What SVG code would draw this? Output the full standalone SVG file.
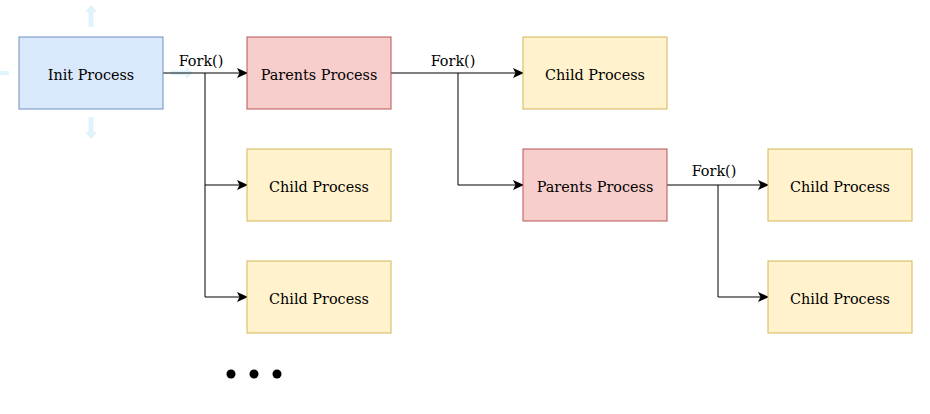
<svg xmlns="http://www.w3.org/2000/svg" width="930" height="414" viewBox="0 0 930 414">
<defs>
<marker id="arr" markerWidth="11" markerHeight="11" refX="10" refY="5" orient="auto" markerUnits="userSpaceOnUse">
<path d="M0,0 L11,5 L0,10 L2.5,5 Z" fill="#000"/>
</marker>
<style>
.t{font-family:"DejaVu Serif",serif;font-size:14.4px;fill:#000;text-anchor:middle;dominant-baseline:central}
.l{font-family:"DejaVu Serif",serif;font-size:14.4px;fill:#000;text-anchor:middle}
.init{fill:#dae8fc;stroke:#6c8ebf;stroke-width:1}
.par{fill:#f8cecc;stroke:#b85450;stroke-width:1}
.ch{fill:#fff2cc;stroke:#d6b656;stroke-width:1}
.c{fill:none;stroke:#000;stroke-width:1}
.h{fill:#dff3fd}
</style>
</defs>
<rect width="930" height="414" fill="#fff"/>
<g id="hints">
<path class="h" d="M91,5 L97,12 L93.5,12 L93.5,27 L88.5,27 L88.5,12 L85,12 Z"/>
<path class="h" d="M91,139 L97,132 L93.5,132 L93.5,117 L88.5,117 L88.5,132 L85,132 Z"/>
<rect class="h" x="0" y="71" width="9" height="4"/>
<path class="h" d="M193,73 L186,79 L186,75.5 L171,75.5 L171,70.5 L186,70.5 L186,67 Z"/>
</g>
<g id="connectors">
<path class="c" d="M163,73 L247,73" marker-end="url(#arr)"/>
<path class="c" d="M205,73 L205,185 L247,185" marker-end="url(#arr)"/>
<path class="c" d="M205,185 L205,297 L247,297" marker-end="url(#arr)"/>
<path class="c" d="M391,73 L523,73" marker-end="url(#arr)"/>
<path class="c" d="M458,73 L458,185 L523,185" marker-end="url(#arr)"/>
<path class="c" d="M667,185 L768,185" marker-end="url(#arr)"/>
<path class="c" d="M718,185 L718,297 L768,297" marker-end="url(#arr)"/>
<text class="l" x="201" y="66">Fork()</text>
<text class="l" x="453" y="66">Fork()</text>
<text class="l" x="714" y="176">Fork()</text>
</g>
<g id="init"><rect class="init" x="19" y="37" width="144" height="72"/><text class="t" x="91" y="75">Init Process</text></g>
<g id="parents1"><rect class="par" x="247" y="37" width="144" height="72"/><text class="t" x="319" y="75">Parents Process</text></g>
<g id="child1"><rect class="ch" x="247" y="149" width="144" height="72"/><text class="t" x="319" y="187">Child Process</text></g>
<g id="child2"><rect class="ch" x="247" y="261" width="144" height="72"/><text class="t" x="319" y="299">Child Process</text></g>
<g id="child3"><rect class="ch" x="523" y="37" width="144" height="72"/><text class="t" x="595" y="75">Child Process</text></g>
<g id="parents2"><rect class="par" x="523" y="149" width="144" height="72"/><text class="t" x="595" y="187">Parents Process</text></g>
<g id="child4"><rect class="ch" x="768" y="149" width="144" height="72"/><text class="t" x="840" y="187">Child Process</text></g>
<g id="child5"><rect class="ch" x="768" y="261" width="144" height="72"/><text class="t" x="840" y="299">Child Process</text></g>
<g id="dots">
<circle cx="231" cy="374" r="4.5"/>
<circle cx="254" cy="374" r="4.5"/>
<circle cx="277" cy="374" r="4.5"/>
</g>
</svg>
